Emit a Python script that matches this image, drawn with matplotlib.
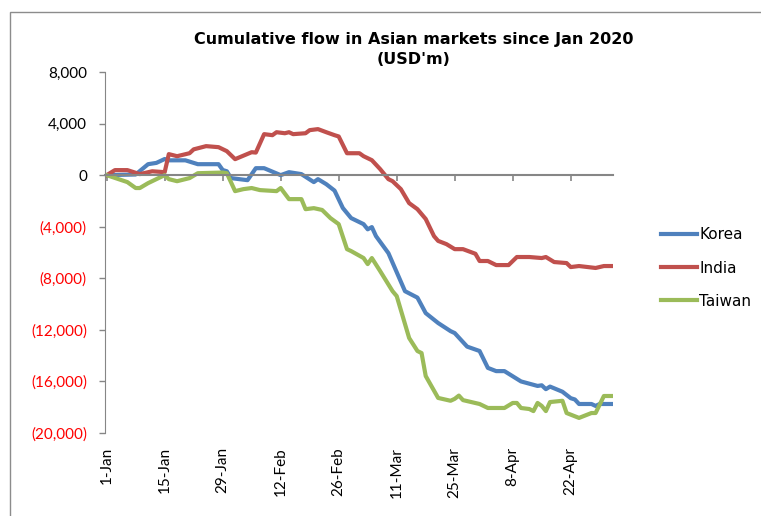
import matplotlib
matplotlib.use("Agg")
import matplotlib.pyplot as plt
from matplotlib.patches import Rectangle
from matplotlib.ticker import FuncFormatter

# days since 1-Jan-2020 (USD m)
korea_days = [0, 7, 10, 12, 14, 15, 19, 22, 27, 28, 29, 30, 34, 36, 38, 42, 44, 47, 50, 51, 53, 55,
              57, 59, 62, 63, 64, 65, 68, 72, 75, 77, 80, 83, 84, 87, 90, 92, 94, 96, 98, 100,
              104, 105, 106, 107, 110, 112, 113, 114, 117, 118, 119, 122]
korea_vals = [0, 50, 850, 950, 1250, 1150, 1150, 850, 850, 400, 300, -230, -390, 540, 540, 0, 230, 80,
              -540, -310, -700, -1200, -2550, -3330, -3800, -4200, -4030, -4730, -6050, -9000, -9500,
              -10700, -11470, -12100, -12250, -13300, -13640, -14950, -15200, -15200, -15600, -16000,
              -16350, -16300, -16600, -16400, -16800, -17300, -17400, -17750, -17750, -17900, -17750, -17750]

india_days = [0, 2, 5, 8, 11, 14, 15, 17, 20, 21, 24, 27, 29, 31, 35, 36, 38, 40, 41, 43, 44, 45, 48,
              49, 51, 53, 55, 56, 58, 61, 62, 64, 66, 68, 69, 71, 73, 75, 77, 79, 80, 82, 84, 86,
              89, 90, 92, 94, 97, 99, 102, 105, 106, 108, 111, 112, 114, 118, 120, 122]
india_vals = [0, 390, 390, 80, 300, 230, 1630, 1470, 1700, 2000, 2250, 2170, 1860, 1240, 1780, 1750,
              3180, 3100, 3330, 3250, 3330, 3180, 3250, 3490, 3570, 3330, 3100, 3000, 1700, 1700, 1470,
              1160, 470, -310, -470, -1085, -2170, -2640, -3400, -4730, -5100, -5350, -5740, -5740,
              -6100, -6660, -6660, -6975, -6975, -6350, -6350, -6430, -6350, -6740, -6820, -7130,
              -7050, -7200, -7050, -7050]

taiwan_days = [0, 5, 7, 8, 10, 14, 15, 17, 20, 22, 28, 29, 31, 33, 35, 37, 41, 42, 44, 47, 48, 50, 52,
               54, 56, 58, 59, 62, 63, 64, 66, 69, 70, 73, 75, 76, 77, 80, 83, 84, 85, 86, 90, 92, 96,
               98, 99, 100, 102, 103, 104, 105, 106, 107, 110, 111, 114, 117, 118, 120, 122]
taiwan_vals = [0, -540, -1000, -1000, -620, 0, -310, -470, -230, 150, 200, 150, -1240, -1085, -1000,
               -1160, -1240, -1000, -1860, -1860, -2640, -2560, -2700, -3330, -3800, -5740, -5890,
               -6430, -6900, -6430, -7440, -9000, -9380, -12630, -13640, -13800, -15580, -17280,
               -17500, -17350, -17100, -17450, -17750, -18060, -18060, -17670, -17670, -18060,
               -18140, -18300, -17670, -17900, -18300, -17600, -17500, -18450, -18830, -18450,
               -18450, -17130, -17130]

tick_days = [0, 14, 28, 42, 56, 70, 84, 98, 112]
tick_labels = ['1-Jan', '15-Jan', '29-Jan', '12-Feb', '26-Feb', '11-Mar', '25-Mar', '8-Apr', '22-Apr']

W, H = 761, 516
fig = plt.figure(figsize=(W / 100, H / 100), dpi=100)
ax = fig.add_axes([105 / W, 1 - 433 / H, (613 - 105) / W, (433 - 72) / H])

# chart border (Excel chart area frame)
fig.patches.append(Rectangle((10 / W, -0.1), 1.2, 1 - 12 / H + 0.1, transform=fig.transFigure,
                             fill=False, edgecolor='#8c8c8c', linewidth=1.0))

ax.plot(korea_days, korea_vals, color='#4F81BD', lw=3, label='Korea', solid_joinstyle='round')
ax.plot(india_days, india_vals, color='#C0504D', lw=3, label='India', solid_joinstyle='round')
ax.plot(taiwan_days, taiwan_vals, color='#9BBB59', lw=3, label='Taiwan', solid_joinstyle='round')

ax.set_xlim(-0.4, 122.2)
ax.set_ylim(-20000, 8000)
ax.set_yticks(range(-20000, 8001, 4000))


def fmt(v, pos):
    if v < 0:
        return '({:,.0f})'.format(-v)
    return '{:,.0f}'.format(v)


ax.yaxis.set_major_formatter(FuncFormatter(fmt))
for lab, v in zip(ax.get_yticklabels(), ax.get_yticks()):
    lab.set_color('red' if v < 0 else 'black')
    lab.set_fontfamily('Lato')
    lab.set_fontsize(11)
ax.tick_params(axis='y', direction='out', length=4, width=1, color='#868686', pad=9)

for s in ['top', 'right']:
    ax.spines[s].set_visible(False)
ax.spines['left'].set_color('#868686')
ax.spines['bottom'].set_position(('data', 0))
ax.spines['bottom'].set_color('#868686')
ax.spines['bottom'].set_linewidth(1.5)
ax.set_xticks(tick_days)
ax.tick_params(axis='x', direction='out', length=4, width=1.2, color='#868686', labelbottom=False)

sec = ax.secondary_xaxis('bottom')
sec.set_xticks(tick_days, tick_labels, rotation=90, fontfamily='Lato', fontsize=11)
sec.tick_params(length=0, pad=10)
sec.spines['bottom'].set_visible(False)

fig.text(414 / W, 1 - 32 / H, "Cumulative flow in Asian markets since Jan 2020\n(USD'm)",
         ha='center', va='top', fontsize=11.5, fontweight='bold', family='DejaVu Sans',
         linespacing=1.45)

fig.legend(loc='center left', bbox_to_anchor=(661 / W, 1 - 268 / H), frameon=False,
           prop={'family': 'DejaVu Sans', 'size': 11}, handlelength=2.35, handletextpad=0.15,
           labelspacing=1.2, borderpad=0, borderaxespad=0)

fig.savefig('out.png', dpi=100)
